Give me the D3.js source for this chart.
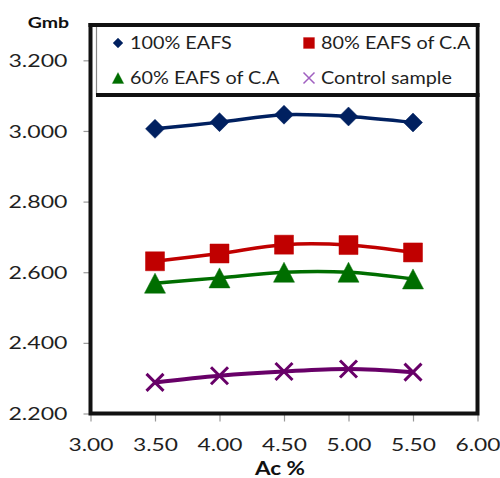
<!DOCTYPE html>
<html>
<head>
<meta charset="utf-8">
<script src="https://cdn.jsdelivr.net/npm/d3@7"></script>
<style>
  html, body { margin: 0; padding: 0; background: #fff; }
  svg { display: block; }
  text { font-family: Lato, "Open Sans", sans-serif; fill: #1f1f1f; }
</style>
</head>
<body>
<svg id="chart" width="500" height="478"></svg>
<script>
// ---- data ----
const acPct = [3.5, 4.0, 4.5, 5.0, 5.5];
const eafs100 = [3.006, 3.025, 3.046, 3.041, 3.024];
const eafs80 = [2.631, 2.653, 2.678, 2.677, 2.656];
const eafs60 = [2.569, 2.584, 2.600, 2.600, 2.581];
const control = [2.288, 2.307, 2.319, 2.326, 2.317];
const seriesNames = ["100% EAFS", "80% EAFS of C.A", "60% EAFS of C.A", "Control sample"];
const xTicks = [3.0, 3.5, 4.0, 4.5, 5.0, 5.5, 6.0];
const yTicks = [2.2, 2.4, 2.6, 2.8, 3.0, 3.2];

const svg = d3.select("#chart");
const L = 90.5, R = 477.5, T = 25, B = 413.5;

const x = d3.scaleLinear().domain([3, 6]).range([L, R]);
const y = d3.scaleLinear().domain([2.2, 3.3]).range([B, T]);

// symbols
const sym = {
  diamond: r => `M0,${-r}L${r},0L0,${r}L${-r},0Z`,
  square: r => `M${-r},${-r}H${r}V${r}H${-r}Z`,
  triangle: r => `M0,${-r}L${r * 1.05},${r}L${-r * 1.05},${r}Z`,
  cross: r => `M${-r},${-r}L${r},${r}M${r},${-r}L${-r},${r}`
};

const series = [
  { name: seriesNames[0], vals: eafs100, color: "#002060", shape: "diamond", size: 9.5, lw: 3.5 },
  { name: seriesNames[1], vals: eafs80, color: "#C00000", shape: "square", size: 9.5, lw: 3.5 },
  { name: seriesNames[2], vals: eafs60, color: "#006E00", shape: "triangle", size: 10, lw: 3.5 },
  { name: seriesNames[3], vals: control, color: "#680068", shape: "cross", size: 8.5, lw: 4 }
];

// axes (ticks)
const yAxis = d3.axisLeft(y).tickValues(yTicks).tickFormat(d3.format(".3f")).tickSize(7).tickSizeOuter(0);
const gy = svg.append("g").attr("transform", `translate(${L},0)`).call(yAxis);
gy.select(".domain").remove();
gy.selectAll(".tick line").attr("stroke", "#999").attr("stroke-width", 1.2);
gy.selectAll(".tick text")
  .attr("x", 0).attr("dy", "0.36em")
  .attr("transform", `translate(-23,0) scale(1.36,1)`)
  .style("font-size", "17px").style("fill", "#1f1f1f");

const xAxis = d3.axisBottom(x).tickValues(xTicks).tickFormat(d3.format(".2f")).tickSize(8).tickSizeOuter(0);
const gx = svg.append("g").attr("transform", `translate(0,${B})`).call(xAxis);
gx.select(".domain").remove();
gx.selectAll(".tick line").attr("stroke", "#999").attr("stroke-width", 1.2);
gx.selectAll(".tick text")
  .attr("y", 0).attr("dy", 0)
  .attr("transform", `translate(0,37.5) scale(1.34,1)`)
  .style("font-size", "17px").style("fill", "#1f1f1f");

// frame
svg.append("rect")
  .attr("x", L).attr("y", T).attr("width", R - L).attr("height", B - T)
  .attr("fill", "none").attr("stroke", "#111").attr("stroke-width", 4);

// series
const line = d3.line().x(d => x(d[0])).y(d => y(d[1])).curve(d3.curveCardinal.tension(0));
series.forEach(s => {
  const pts = acPct.map((a, i) => [a, s.vals[i]]);
  svg.append("path").datum(pts)
    .attr("d", line).attr("fill", "none")
    .attr("stroke", s.color).attr("stroke-width", s.lw).attr("stroke-linecap", "round");
  svg.selectAll(null).data(pts).enter().append("path")
    .attr("transform", d => `translate(${x(d[0])},${y(d[1])})`)
    .attr("d", sym[s.shape](s.size))
    .attr("fill", s.shape === "cross" ? "none" : s.color)
    .attr("stroke", s.color)
    .attr("stroke-width", s.shape === "cross" ? 3 : 0.5);
});

// legend box
const lg = svg.append("g");
lg.append("rect").attr("x", 96).attr("y", T + 2).attr("width", R - 98).attr("height", 68).attr("fill", "#fff");
lg.append("line").attr("x1", 96.5).attr("x2", 96.5).attr("y1", T).attr("y2", 95)
  .attr("stroke", "#888").attr("stroke-width", 1.2);
lg.append("line").attr("x1", 96).attr("x2", R + 2).attr("y1", 95).attr("y2", 95)
  .attr("stroke", "#111").attr("stroke-width", 4);
lg.append("line").attr("x1", L - 2).attr("x2", R + 2).attr("y1", T).attr("y2", T)
  .attr("stroke", "#111").attr("stroke-width", 4);

const legPos = [[118, 43], [309, 43], [118, 78], [309, 78]];
const legColors = ["#002060", "#C00000", "#006E00", "#A060C0"];
const legSize = [5, 5.5, 5.5, 5.5];
series.forEach((s, i) => {
  const [lx, ly] = legPos[i];
  lg.append("path")
    .attr("transform", `translate(${lx},${ly})`)
    .attr("d", sym[s.shape](legSize[i]))
    .attr("fill", s.shape === "cross" ? "none" : legColors[i])
    .attr("stroke", legColors[i])
    .attr("stroke-width", s.shape === "cross" ? 1.5 : 0.3);
  lg.append("text")
    .attr("transform", `translate(${lx + 12},${ly + 6}) scale(1.2,1)`)
    .style("font-size", "16.5px")
    .text(s.name);
});

// axis titles
svg.append("text")
  .attr("transform", `translate(48.5,28) scale(1.3,1)`)
  .attr("text-anchor", "middle")
  .style("font-size", "15px").style("font-weight", "bold").style("fill", "#111")
  .text("Gmb");
svg.append("text")
  .attr("transform", `translate(280,475) scale(1.25,1)`)
  .attr("text-anchor", "middle")
  .style("font-size", "18px").style("font-weight", "bold").style("fill", "#111")
  .text("Ac %");
</script>
</body>
</html>
